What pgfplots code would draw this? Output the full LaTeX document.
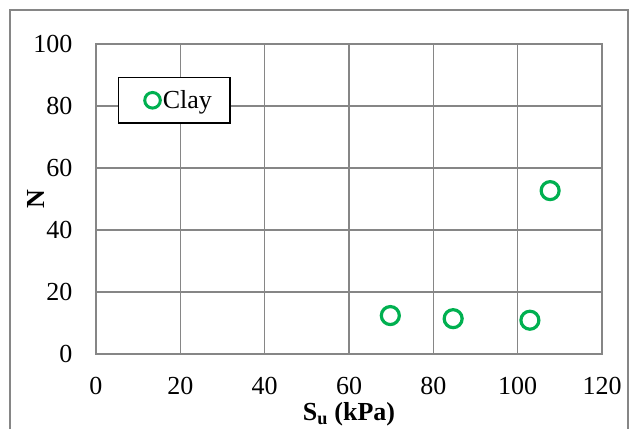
\documentclass[border=0pt]{standalone}
\usepackage{fontspec}
\setmainfont{Liberation Serif}
\usepackage{pgfplots}
\pgfplotsset{compat=1.18}
\definecolor{excelgreen}{RGB}{0,176,80}
\definecolor{gridgray}{RGB}{134,134,134}
\begin{document}
\begin{tikzpicture}
\useasboundingbox (0pt,0pt) rectangle (629pt,429pt);
\draw[gridgray, line width=1.2pt] (10pt,0pt) -- (10pt,419pt) -- (628pt,419pt) -- (628pt,0pt);
\begin{axis}[
  at={(96pt,75pt)}, anchor=origin,
  scale only axis, width=506pt, height=310pt,
  xmin=0, xmax=120, ymin=0, ymax=100,
  xtick={0,20,...,120}, ytick={0,20,...,100},
  grid=major,
  major grid style={gridgray, line width=1.3pt},
  axis line style={gridgray, line width=1.3pt},
  tick style={draw=none},
  /pgf/number format/assume math mode=true,
  ticklabel style={font=\fontsize{26}{26}\selectfont},
  xticklabel style={yshift=-20pt},
  yticklabel style={xshift=-20pt},
  xlabel={\textbf{S\textsubscript{u} (kPa)}},
  ylabel={\textbf{N}},
  label style={font=\fontsize{26}{26}\selectfont},
  xlabel style={yshift=-1pt},
  ylabel style={yshift=-18pt},
  legend style={at={(axis cs:5.2,89.4)}, anchor=north west, draw=black, line width=1.3pt,
    font=\fontsize{26}{26}\selectfont, inner xsep=17pt, inner ysep=12pt,
    nodes={inner sep=1pt},
    legend cell align=left},
  legend image code/.code={\path (-16.3pt,0pt); \draw[excelgreen, line width=3pt, fill=white] (0pt,0pt) circle (7.8pt);},
]
\addplot[only marks, mark=*, mark size=9pt, mark options={draw=excelgreen, fill=white, line width=3.2pt}]
  coordinates {(69.8,12.4) (84.7,11.4) (102.9,10.9) (107.7,52.7)};
\addlegendentry{Clay}
\end{axis}
\end{tikzpicture}
\end{document}
